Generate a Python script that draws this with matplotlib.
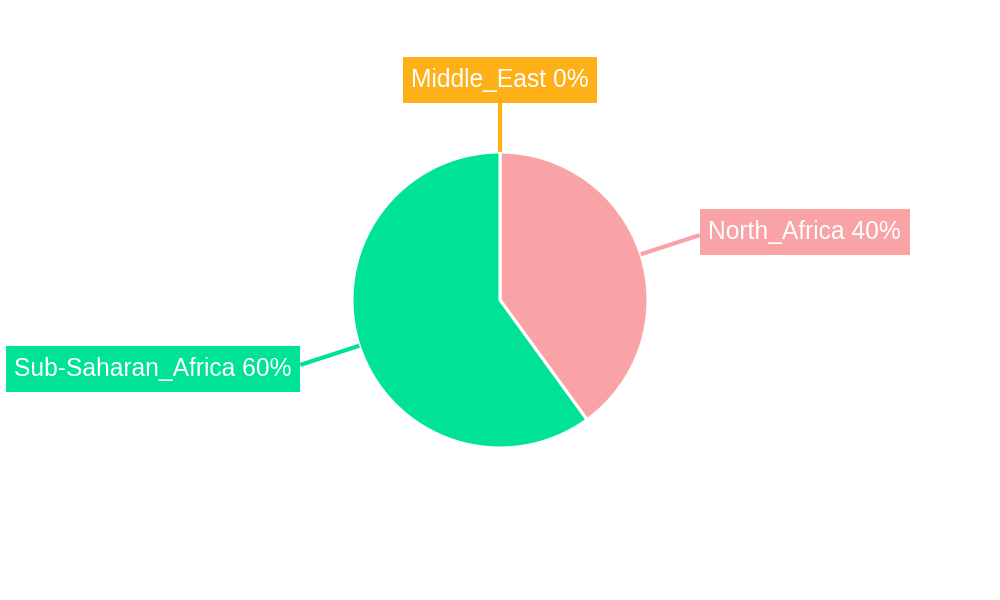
import numpy as np
import matplotlib.pyplot as plt

labels = ["North_Africa", "Middle_East", "Sub-Saharan_Africa"]
values = [40, 0, 60]
colors = ["#F9A3A6", "#FEB019", "#00E396"]

plt.rcParams['font.family'] = ['Liberation Sans', 'DejaVu Sans']

fig = plt.figure(figsize=(10, 6), dpi=100)
ax = fig.add_axes([0, 0, 1, 1])

cx, cy, r = 500, 300, 148
# wedges drawn clockwise from the top
order = [1, 0, 2]
wedges, _ = ax.pie([values[i] for i in order], colors=[colors[i] for i in order],
                   startangle=90, counterclock=False, center=(cx, cy), radius=r,
                   wedgeprops=dict(edgecolor='white', linewidth=2.2), frame=True)
ax.set_xlim(0, 1000)
ax.set_ylim(0, 600)
ax.set_aspect('equal')
ax.axis('off')

total = sum(values)
pct = [round(v / total * 100) for v in values]
fs = 17.7

for w, i in zip(wedges, order):
    mid = np.deg2rad((w.theta1 + w.theta2) / 2)
    x0, y0 = cx + r * np.cos(mid), cy + r * np.sin(mid)
    r2 = 198 if values[i] == 0 else 210
    x1, y1 = cx + r2 * np.cos(mid), cy + r2 * np.sin(mid)
    ax.plot([x0, x1], [y0, y1], color=colors[i], lw=3, solid_capstyle='butt', zorder=1)
    txt = f"{labels[i]} {pct[i]}%"
    bb = dict(boxstyle='square,pad=0.35', fc=colors[i], ec='none', mutation_aspect=1.28)
    if values[i] == 0:
        ax.text(x1, y1 + 22, txt, ha='center', va='center', fontsize=fs,
                color='white', bbox=bb)
    elif np.cos(mid) > 0:
        ax.text(x1 + 8.5, y1 + 3, txt, ha='left', va='center', fontsize=fs,
                color='white', bbox=bb)
    else:
        ax.text(x1 - 8.5, y1 - 4, txt, ha='right', va='center', fontsize=fs,
                color='white', bbox=bb)

fig.savefig("out.png", dpi=100)
